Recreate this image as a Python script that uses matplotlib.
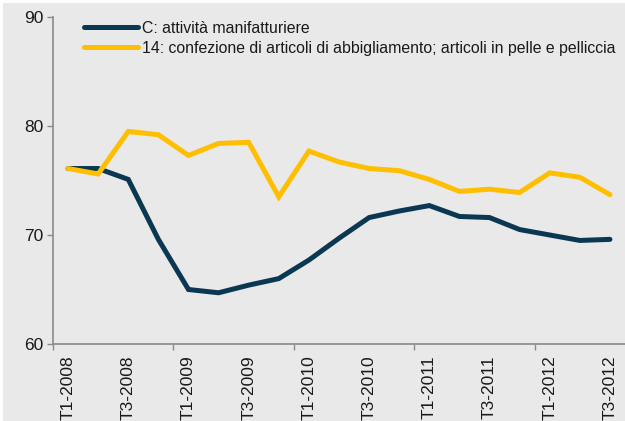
import matplotlib.pyplot as plt
from matplotlib.patches import Rectangle

plt.rcParams['font.family'] = ['Liberation Sans', 'DejaVu Sans']

# trimestri
quarters = ['T1-2008', 'T2-2008', 'T3-2008', 'T4-2008',
            'T1-2009', 'T2-2009', 'T3-2009', 'T4-2009',
            'T1-2010', 'T2-2010', 'T3-2010', 'T4-2010',
            'T1-2011', 'T2-2011', 'T3-2011', 'T4-2011',
            'T1-2012', 'T2-2012', 'T3-2012']

manifatturiere = [76.1, 76.1, 75.1, 69.6, 65.0, 64.7, 65.4, 66.0, 67.7, 69.7,
                  71.6, 72.2, 72.7, 71.7, 71.6, 70.5, 70.0, 69.5, 69.6]
abbigliamento = [76.1, 75.6, 79.5, 79.2, 77.3, 78.4, 78.5, 73.5, 77.7, 76.7,
                 76.1, 75.9, 75.1, 74.0, 74.2, 73.9, 75.7, 75.3, 73.7]

label_c = 'C: attività manifatturiere'
label_14 = '14: confezione di articoli di abbigliamento; articoli in pelle e pelliccia'

bg = '#e9e9e9'
fig = plt.figure(figsize=(6.25, 4.21), dpi=100)
fig.patch.set_facecolor('white')
fig.add_artist(Rectangle((3 / 625, 0), 1, 1 - 3 / 421, transform=fig.transFigure,
                         facecolor=bg, edgecolor='none', zorder=0))

ax = fig.add_axes([53 / 625, 1 - 344 / 421, 1 - 53 / 625, (344 - 17) / 421])
ax.set_facecolor(bg)

x = list(range(len(quarters)))
ax.plot(x, manifatturiere, color='#0a3852', lw=3.6, label=label_c,
        solid_capstyle='round', solid_joinstyle='miter')
ax.plot(x, abbigliamento, color='#ffbf00', lw=3.6, label=label_14,
        solid_capstyle='round', solid_joinstyle='miter')

ax.set_xlim(-0.5, 18.5)
ax.set_ylim(60, 90)
ax.set_yticks([60, 70, 80, 90])

# etichette ogni 2 trimestri, tacche ogni 4
ax.set_xticks(x[::2])
ax.set_xticklabels(quarters[::2], rotation=90)
ax.tick_params(axis='x', which='major', length=0, pad=8)
ax.set_xticks([-0.5, 3.5, 7.5, 11.5, 15.5], minor=True)
ax.tick_params(axis='x', which='minor', length=4, color='#8a8a8a', width=1)
ax.tick_params(axis='y', length=4, color='#8a8a8a', width=1, pad=3)
ax.tick_params(labelsize=12.5, labelcolor='#1a1a1a')

for s in ['top', 'right']:
    ax.spines[s].set_visible(False)
for s in ['left', 'bottom']:
    ax.spines[s].set_color('#8a8a8a')
    ax.spines[s].set_linewidth(1.2)

leg = ax.legend(loc='upper left', bbox_to_anchor=(0.04, 1.012), frameon=False,
                fontsize=11.4, handlelength=3.4, handletextpad=0.25,
                labelspacing=0.3, borderaxespad=0.1)
for t in leg.get_texts():
    t.set_color('#1a1a1a')

fig.savefig('out.png', dpi=100, facecolor=fig.get_facecolor())
